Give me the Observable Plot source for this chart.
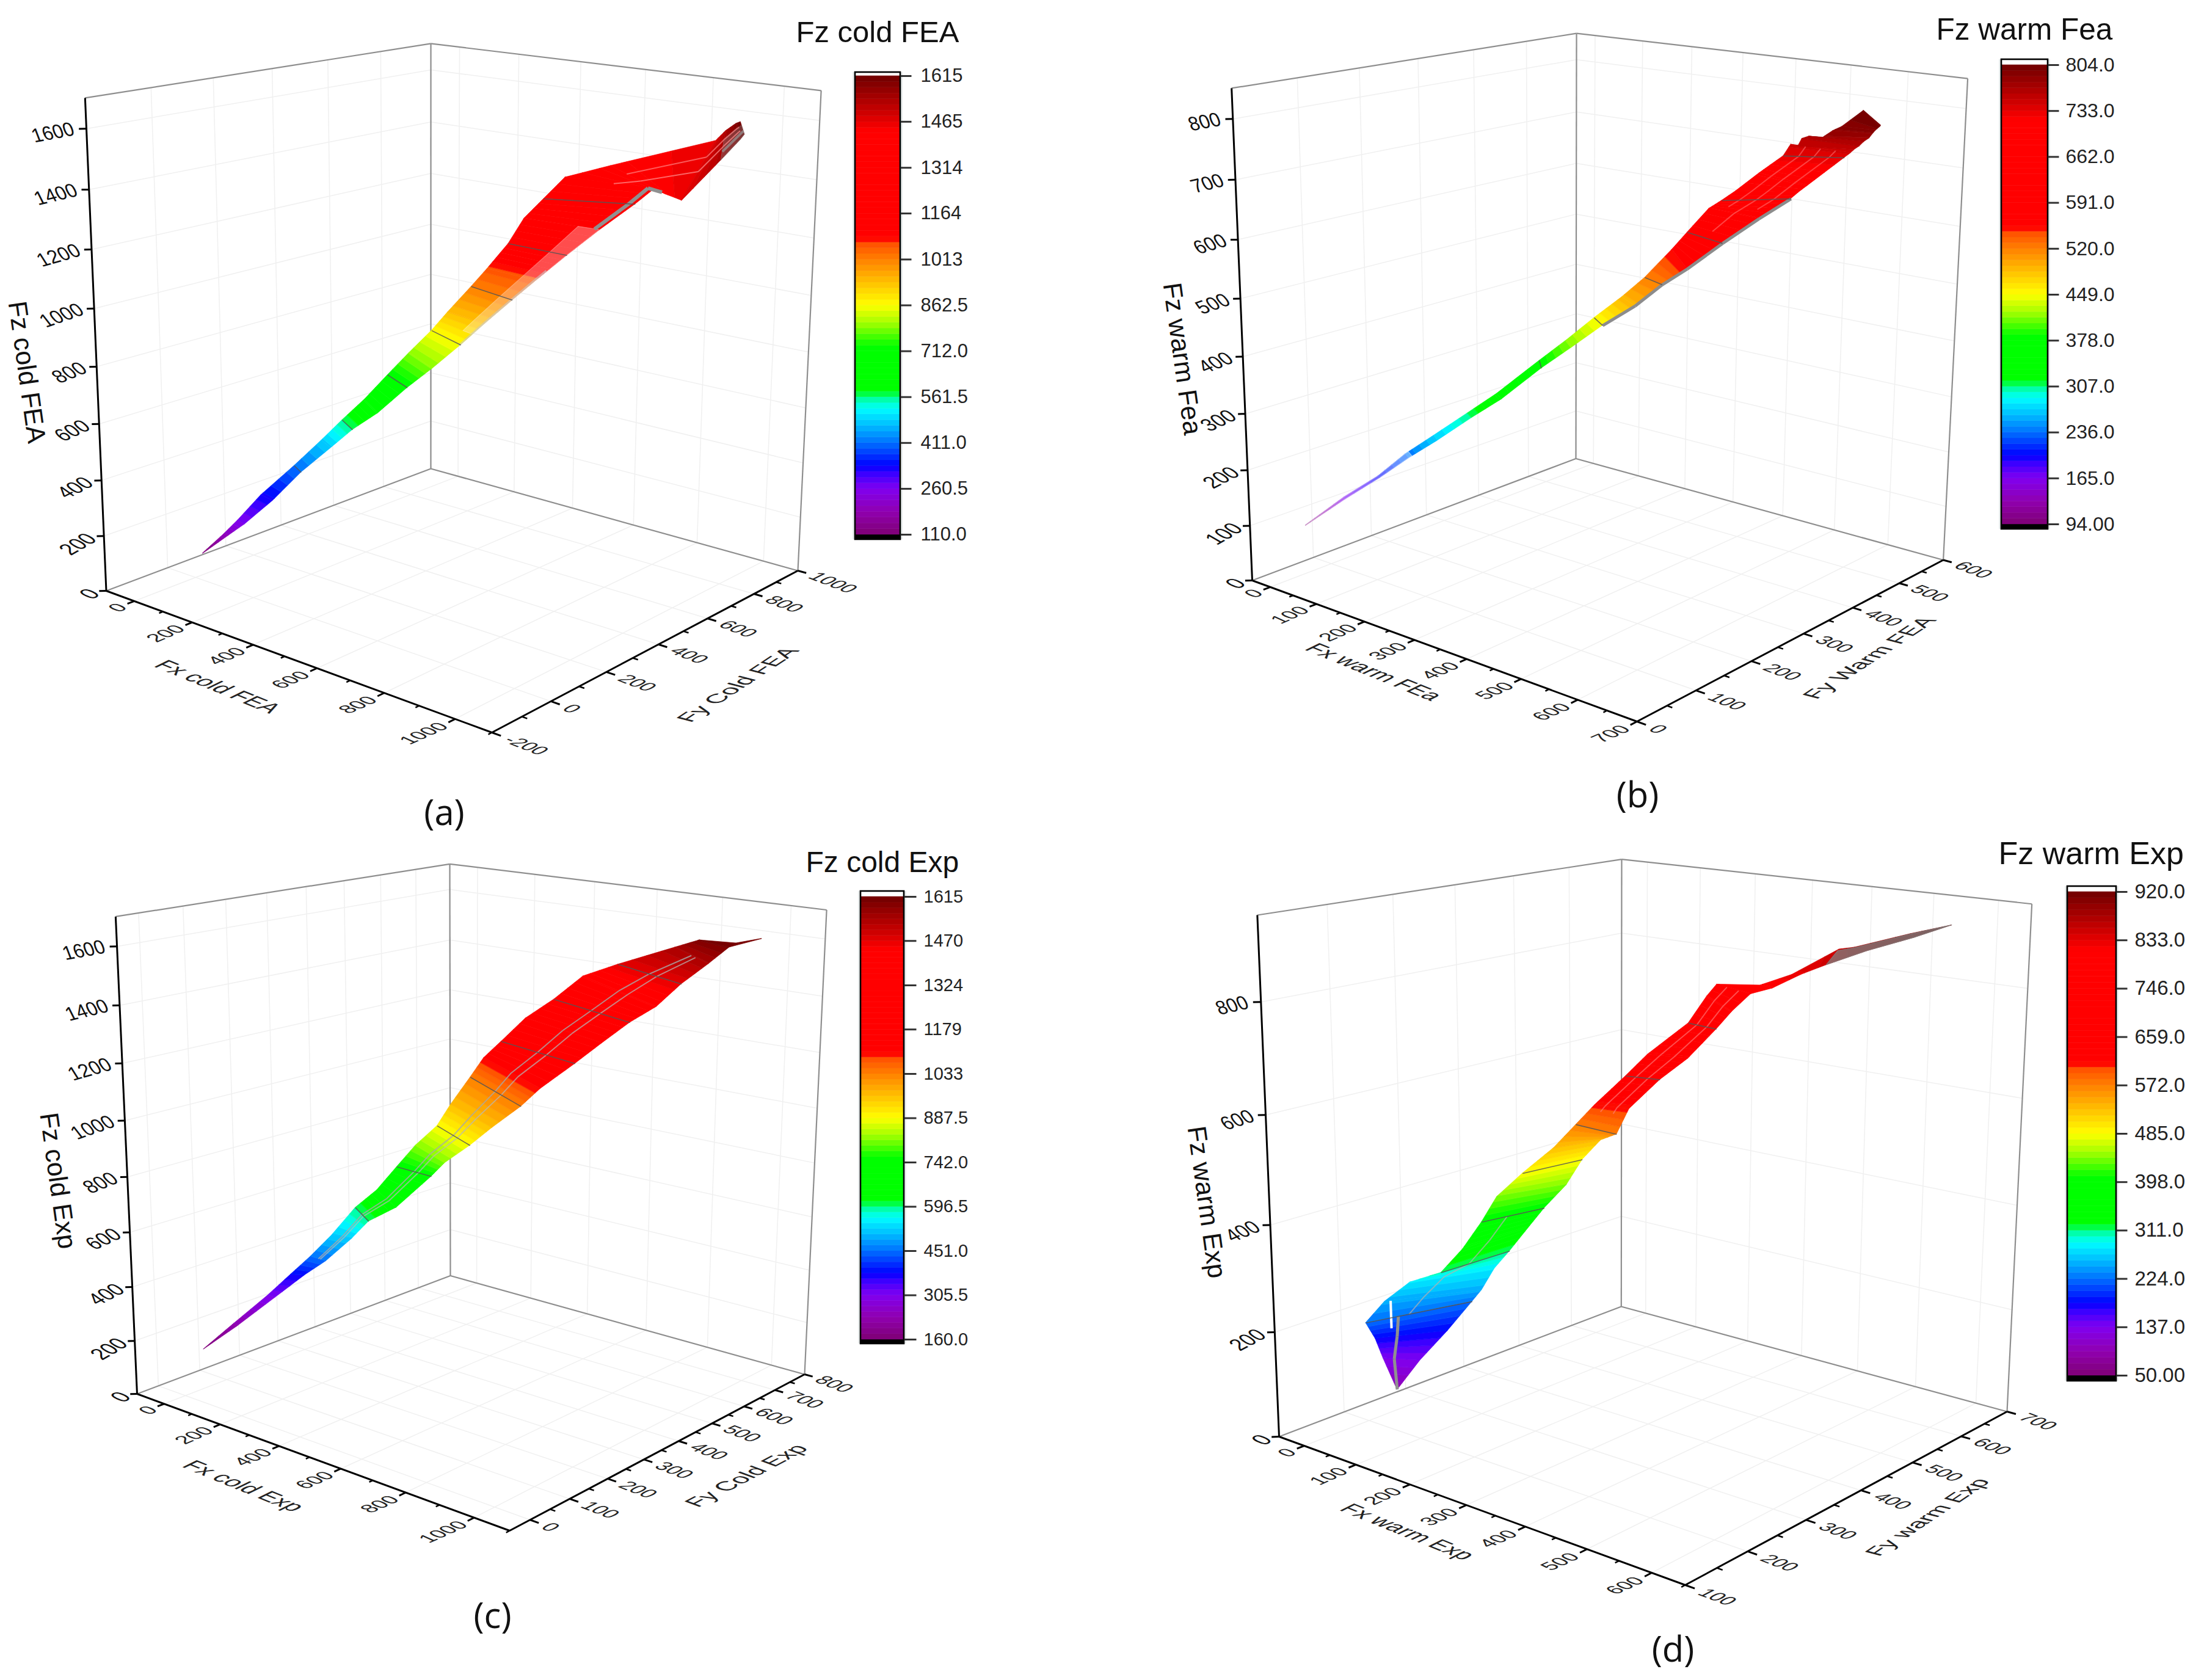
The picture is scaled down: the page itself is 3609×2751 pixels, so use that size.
<!DOCTYPE html>
<html><head><meta charset="utf-8">
<script src="https://cdn.jsdelivr.net/npm/d3@7"></script>
<script src="https://cdn.jsdelivr.net/npm/@observablehq/plot@0.6"></script>
<style>html,body{margin:0;padding:0;background:#fff}#page{position:relative;width:3609px;height:2751px;overflow:hidden}#page>svg{position:absolute;overflow:visible}</style>
</head><body><div id="page"></div>
<script>
// Surface readings: Fz level, then (Fx,Fy) on the upper (U) and lower (L) edge of the surface at that level.
const a_fz =[110,200,260.5,330,411,480,561.5,640,712,790,862.5,940,1013,1060,1164,1240,1314,1370,1420,1465,1530,1590,1615];
const a_fxU=[42,108,149,162,188,205,256,304,322,359,390,439,453,454,521,525,572,572,675,775,859,954,1004];
const a_fyU=[-13,-3,4,71,160,238,258,286,350,387,434,437,507,565,563,618,633,716,760,1059,972,869,810];
const a_fxL=[44,125,181,212,235,263,327,402,429,490,526,574,610,616,701,738,774,815,969,1119,1059,1076,1102];
const a_fyL=[-14,-6,-4,60,135,209,218,226,300,321,381,412,469,550,558,635,725,743,568,410,649,700,675];

const b_fz =[94,165,200,236,270,307,345,378,415,449,490,520,556,591,625,662,680,700,733,745,752,760,768,776,784,792,800,804];
const b_fxU=[11,91,125,150,186,218,258,257,289,310,351,368,370,399,406,477,497,497,534,523,557,549,568,609,612,625,597,610];
const b_fyU=[52,56,86,112,128,161,177,253,273,303,314,340,389,388,422,370,375,420,425,452,427,444,435,415,431,433,511,496];
const b_fxL=[12,99,133,167,206,238,282,286,320,347,398,414,461,481,503,545,571,600,608,625,633,644,651,662,668,677,687,693];
const b_fyL=[52,52,82,104,118,151,164,230,254,283,292,326,324,369,415,430,414,399,461,453,450,447,447,444,443,438,434,428];

const c_fz =[160,230,305.5,380,451,520,596.5,670,742,815,887.5,960,1033,1105,1179,1250,1324,1400,1470,1540,1600,1612,1615];
const c_fxU=[17,42,61,97,142,166,171,225,239,263,304,318,303,328,388,405,468,504,631,758,881,998,1016];
const c_fyU=[36,91,166,201,219,257,315,331,374,406,432,458,525,542,540,594,620,672,655,699,646,633,692];
const c_fxL=[18,60,86,129,197,225,276,363,363,426,488,544,592,644,680,727,780,869,897,947,991,1016,1018];
const c_fyL=[36,89,168,213,218,264,270,275,368,353,369,381,418,424,488,519,548,536,579,606,620,613,690];

const d_fz =[95,137,180,224,250,280,311,350,398,440,485,530,572,610,659,700,746,780,800,810,830,850,880,905,920];
const d_fxU=[78,39,40,53,50,66,119,133,149,156,186,214,236,260,284,311,329,313,320,392,426,410,492,550,590];
const d_fyU=[183,194,182,158,190,217,222,245,262,281,296,322,338,346,375,385,437,487,497,497,516,625,554,590,619];
const d_fxL=[79,83,92,99,115,111,123,133,168,188,200,235,310,308,332,366,381,403,396,417,435,467,520,570,590];
const d_fyL=[183,216,253,288,290,315,330,353,348,367,383,381,334,357,385,398,431,434,475,491,523,532,543,571,618];

// Colour-bar tick labels
const a_ticks=["110.0","260.5","411.0","561.5","712.0","862.5","1013","1164","1314","1465","1615"];
const b_ticks=["94.00","165.0","236.0","307.0","378.0","449.0","520.0","591.0","662.0","733.0","804.0"];
const c_ticks=["160.0","305.5","451.0","596.5","742.0","887.5","1033","1179","1324","1470","1615"];
const d_ticks=["50.00","137.0","224.0","311.0","398.0","485.0","572.0","659.0","746.0","833.0","920.0"];

// Rainbow colour map of the bars (fractions of the bar, colours)
const colorStops=[0,.05,.10,.13,.15,.20,.24,.275,.30,.312,.41,.46,.50,.55,.60,.635,.645,.88,.93,1];
const colorRange=["#7f0075","#9000b0","#8000f0","#4000ff","#0000ff","#0070ff","#00c0ff","#00ffff","#00ff90","#00ff00","#00ff00","#a0ff00","#ffff00","#ffc000","#ff8000","#ff5000","#ff0000","#ff0000","#c00000","#700000"];
const N=80;
const zipSec=(z,xU,yU,xL,yL)=>z.map((v,i)=>({z:v,xU:xU[i],yU:yU[i],xL:xL[i],yL:yL[i]}));

const panels=[
{ox:0,oy:0,w:1800,h:1375,A:[173.5,967],B:[805,1199],C:[1306,934],D:[705,767],At:[139,161],Dt:[705,69],Ct:[1344,149],
 xd:[-100,1100],yd:[-200,1000],zd:[0,1700],xt:200,xf:0,yt:200,yf:-200,zt:200,xm:100,ym:100,yLab:1.035,yTr:1.2,
 sec:zipSec(a_fz,a_fxU,a_fyU,a_fxL,a_fyL),lab:a_ticks,
 contours:[411,561.5,712,862.5,1013,1164,1314],
 strands:[[.97,860,1100,"#c8c8c8",3,.6],[.93,1240,1420,"#909090",6,1],[.55,1370,1600,"#ff9090",2,.7],[.3,1420,1600,"#ff8080",2,.7],[.72,1530,1615,"#999",4,.7]],
 sheens:[[.72,1,900,1240,"#ffffff",.3],[.3,1,1530,1615,"#807070",.45]],
 title:"Fz cold FEA",tfs:49,tx:1303,ty:68,
 leg:{x0:1400,x1:1474,y0:118,y1:883,top:124,bot:875,tickEnd:1492,lx:1507,fs:31},
 zT:"Fz cold FEA",zTp:[43,609],xT:"Fx cold FEA",xTp:[356,1124],yT:"Fy Cold FEA",yTp:[1208,1121],tag:"(a)",tagp:[727,1332]},
{ox:1800,oy:0,w:1809,h:1375,A:[2050,950],B:[2680,1181],C:[3181.6,916.5],D:[2580,750.5],At:[2017,143.5],Dt:[2580,52],Ct:[3222,131],
 xd:[-40,700],yd:[0,600],zd:[0,850],xt:100,xf:0,yt:100,yf:0,zt:100,xm:50,ym:50,yLab:1.035,yTr:1.2,
 sec:zipSec(b_fz,b_fxU,b_fyU,b_fxL,b_fyL),lab:b_ticks,
 contours:[378,449,520,591,662,733],
 strands:[[1,449,662,"#8c8c8c",5,1],[.5,600,745,"#ff7070",2,.6],[.25,640,745,"#ff8080",2,.5],[.75,640,745,"#ff8080",2,.5]],
 sheens:[[0,1,94,240,"#ffffff",.4]],
 title:"Fz warm Fea",tfs:49.5,tx:3170,ty:64,
 leg:{x0:3277,x1:3353,y0:97,y1:866,top:106,bot:858,tickEnd:3371,lx:3382,fs:32},
 zT:"Fz warm Fea",zTp:[1935,587],xT:"Fx warm FEa",xTp:[2249,1100],yT:"Fy Warm FEA",yTp:[3061,1077],tag:"(b)",tagp:[2681,1303]},
{ox:0,oy:1375,w:1800,h:1376,A:[224,2282],B:[834,2506],C:[1317,2250],D:[737,2088.5],At:[189,1502],Dt:[736,1413],Ct:[1353,1489.5],
 xd:[-100,1100],yd:[-50,800],zd:[0,1700],xt:200,xf:0,yt:100,yf:0,zt:200,xm:100,ym:50,yLab:1.035,yTr:1.0,
 sec:zipSec(c_fz,c_fxU,c_fyU,c_fxL,c_fyL),lab:c_ticks,
 contours:[596.5,742,887.5,1033,1179,1324,1470],
 strands:[[.5,451,1540,"#a8a8a8",2,.8],[.62,451,1540,"#b8b8b8",2,.7]],
 sheens:[],
 title:"Fz cold Exp",tfs:48,tx:1319,ty:1427,
 leg:{x0:1409,x1:1480,y0:1459,y1:2200,top:1468,bot:2193,tickEnd:1500,lx:1512,fs:29},
 zT:"Fz cold Exp",zTp:[94,1933],xT:"Fx cold Exp",xTp:[398,2433],yT:"Fy Cold Exp",yTp:[1222,2416],tag:"(c)",tagp:[806,2647]},
{ox:1800,oy:1375,w:1809,h:1376,A:[2094,2352],B:[2759,2595],C:[3286,2311],D:[2654.3,2139],At:[2059.5,1498],Dt:[2653.7,1402],Ct:[3327,1485],
 xd:[-50,650],yd:[100,700],zd:[0,950],xt:100,xf:0,yt:100,yf:100,zt:200,xm:50,ym:50,yLab:1.035,yTr:1.2,
 sec:zipSec(d_fz,d_fxU,d_fyU,d_fxL,d_fyL),lab:d_ticks,
 contours:[224,311,398,485,572,659,746],
 strands:[[.3,95,224,"#909090",5,1],[.4,224,398,"#b0b0b0",2,.7],[.23,200,250,"#ffffff",4,1,.06],[.3,600,800,"#ff8080",2,.6],[.65,600,800,"#ff8080",2,.6]],
 sheens:[[.1,1,850,920,"#808080",.75]],
 title:"Fz warm Exp",tfs:52,tx:3272,ty:1414,
 leg:{x0:3385,x1:3465,y0:1451,y1:2261,top:1460,bot:2252,tickEnd:3483,lx:3495,fs:33},
 zT:"Fz warm Exp",zTp:[1975,1968],xT:"Fx warm Exp",xTp:[2304,2508],yT:"Fy warm Exp",yTp:[3156,2484],tag:"(d)",tagp:[2739,2702]}
];
panels.forEach(p=>{p.zmin=+p.lab[0];p.zmax=+p.lab[p.lab.length-1];});
function camera(p){
 const [Ax,Ay]=p.A,[Bx,By]=p.B,[Cx,Cy]=p.C,[Dx,Dy]=p.D;
 const dx1=Bx-Cx,dx2=Dx-Cx,dx3=Ax-Bx+Cx-Dx,dy1=By-Cy,dy2=Dy-Cy,dy3=Ay-By+Cy-Dy,den=dx1*dy2-dx2*dy1;
 const g=(dx3*dy2-dx2*dy3)/den,h=(dx1*dy3-dx3*dy1)/den;
 const a=Bx-Ax+g*Bx,b=Dx-Ax+h*Dx,c=Ax,d=By-Ay+g*By,e=Dy-Ay+h*Dy,f=Ay;
 const tops=[[0,0,p.At],[0,1,p.Dt],[1,1,p.Ct]];
 const M=[[0,0,0],[0,0,0],[0,0,0]],R=[0,0,0];
 for(const [u,v,T] of tops){const n=g*u+h*v+1,xn=a*u+b*v+c,yn=d*u+e*v+f;
  for(const [row,rhs] of [[[1,0,-T[0]],T[0]*n-xn],[[0,1,-T[1]],T[1]*n-yn]]){
   for(let i=0;i<3;i++){R[i]+=row[i]*rhs;for(let j=0;j<3;j++)M[i][j]+=row[i]*row[j];}}}
 for(let i=0;i<3;i++){const pv=M[i][i];for(let j=i;j<3;j++)M[i][j]/=pv;R[i]/=pv;
  for(let k=0;k<3;k++)if(k!==i){const m=M[k][i];for(let j=i;j<3;j++)M[k][j]-=m*M[i][j];R[k]-=m*R[i];}}
 const [pp,qq,rr]=R;
 const uvw=(u,v,w)=>{const n=g*u+h*v+1+rr*w;return[(a*u+b*v+c+pp*w)/n,(d*u+e*v+f+qq*w)/n];};
 const U=x=>(x-p.xd[0])/(p.xd[1]-p.xd[0]),V=y=>(y-p.yd[0])/(p.yd[1]-p.yd[0]),W=z=>(z-p.zd[0])/(p.zd[1]-p.zd[0]);
 return {uvw,U,V,W};
}
const deg=(P,Q)=>Math.atan2(Q[1]-P[1],Q[0]-P[0])*180/Math.PI;
function range(a,b,s){const r=[];for(let v=a;v<=b+1e-9;v+=s)r.push(v);return r;}
const font='"Liberation Sans", Arial, sans-serif';
function draw(p){
 const cam=camera(p),{uvw,U,V,W}=cam,dataSec=p.sec;
 const X=(x,y,z)=>uvw(U(x),V(y),W(z));
 const sp=(sec,s)=>[sec.xU+(sec.xL-sec.xU)*s,sec.yU+(sec.yL-sec.yU)*s];
 const at=z=>{for(let i=0;i<dataSec.length-1;i++){const a=dataSec[i],b=dataSec[i+1];if(z>=a.z&&z<=b.z){const t=(z-a.z)/(b.z-a.z);return{z,xU:a.xU+(b.xU-a.xU)*t,yU:a.yU+(b.yU-a.yU)*t,xL:a.xL+(b.xL-a.xL)*t,yL:a.yL+(b.yL-a.yL)*t};}}return dataSec[dataSec.length-1];};
 const dz=(p.zmax-p.zmin)/N;
 const bandRows=[];let id=0;
 for(let i=0;i<dataSec.length-1;i++){const z0=dataSec[i].z,z1=dataSec[i+1].z;
  const cuts=[z0];for(let k=Math.ceil((z0-p.zmin)/dz+1e-9);p.zmin+k*dz<z1;k++)cuts.push(p.zmin+k*dz);cuts.push(z1);
  for(let j=0;j<cuts.length-1;j++){const mid=(cuts[j]+cuts[j+1])/2,k=Math.min(N-1,Math.floor((mid-p.zmin)/dz)),lv=p.zmin+(k+.5)*dz;id++;
   for(const z of [cuts[j],cuts[j+1]]){const s=at(Math.min(z,p.zmax));bandRows.push({id,lv,u:X(s.xU,s.yU,z),l:X(s.xL,s.yL,z)});}}}
 const seg=(a,b)=>({a,b});
 const [x0,x1]=p.xd,[y0,y1]=p.yd,[,z1]=p.zd;
 const frame=[[[0,0,0],[0,1,0]],[[0,1,0],[1,1,0]],[[0,1,0],[0,1,1]],[[0,0,1],[0,1,1]],[[0,1,1],[1,1,1]],[[1,1,0],[1,1,1]]].map(([a,b])=>seg(uvw(...a),uvw(...b)));
 const axesK=[[[0,0,0],[1,0,0]],[[1,0,0],[1,1,0]],[[0,0,0],[0,0,1]]].map(([a,b])=>seg(uvw(...a),uvw(...b)));
 const xmaj=range(p.xf,x1,p.xt),ymaj=range(p.yf,y1,p.yt),zmaj=range(0,z1,p.zt);
 const grid=[];
 for(const z of zmaj){if(z===0)continue;grid.push(seg(X(x0,y0,z),X(x0,y1,z)),seg(X(x0,y1,z),X(x1,y1,z)));}
 for(const x of xmaj){grid.push(seg(X(x,y0,0),X(x,y1,0)),seg(X(x,y1,0),X(x,y1,z1)));}
 for(const y of ymaj){grid.push(seg(X(x0,y,0),X(x1,y,0)),seg(X(x0,y,0),X(x0,y,z1)));}
 const tick=[],minor=[];
 for(const x of range(p.xf,x1,p.xm)){const maj=xmaj.includes(x);(maj?tick:minor).push(seg(X(x,y0,0),uvw(U(x),maj?-.018:-.01,0)));}
 for(const y of range(p.yf,y1,p.ym)){const maj=ymaj.includes(y);(maj?tick:minor).push(seg(X(x1,y,0),uvw(maj?1.02:1.012,V(y),0)));}
 for(const z of zmaj){tick.push(seg(X(x0,y0,z),uvw(-.01,-.01,W(z))));}
 const dirX=deg(p.A,p.B),dirY=deg(p.B,p.C);
 const xl=xmaj.map(v=>({t:String(v),p:uvw(U(v),-.03,0)}));
 const yl=ymaj.map(v=>({t:String(v),p:uvw(p.yLab,V(v),0)}));
 const zl=zmaj.map(v=>{const n=W(v);return{t:String(v),p:uvw(-.017,-.017,n),r:deg(uvw(0,0,n),uvw(0,1,n))-12*(1-n)};});
 const cont=p.contours.map(z=>{const s=at(z);return seg(X(s.xU,s.yU,z),X(s.xL,s.yL,z));});
 const linkO={x1:d=>d.a[0],y1:d=>d.a[1],x2:d=>d.b[0],y2:d=>d.b[1]};
 const strandMarks=p.strands.map(([s,za,zb,col,wd,op,s2])=>{
  const zs=s2===undefined?[za,...dataSec.map(d=>d.z).filter(z=>z>za&&z<zb),zb]:[za,zb];const segs=[];
  const sAt=z=>s2===undefined?s:s+(s2-s)*(z-za)/(zb-za);
  for(let i=0;i<zs.length-1;i++){const A=at(zs[i]),B=at(zs[i+1]);const [ax,ay]=sp(A,sAt(zs[i])),[bx,by]=sp(B,sAt(zs[i+1]));segs.push(seg(X(ax,ay,zs[i]),X(bx,by,zs[i+1])));}
  return Plot.link(segs,{...linkO,stroke:col,strokeWidth:wd,strokeOpacity:op});});
 const sheenMarks=p.sheens.map(([s0,s1,za,zb,col,op])=>{
  const zs=[za,...dataSec.map(d=>d.z).filter(z=>z>za&&z<zb),zb];
  const rows=zs.map(z=>{const S=at(z);const [ax,ay]=sp(S,s0),[bx,by]=sp(S,s1);return{u:X(ax,ay,z),l:X(bx,by,z)};});
  return Plot.area(rows,{x1:d=>d.u[0],y1:d=>d.u[1],x2:d=>d.l[0],y2:d=>d.l[1],fill:col,fillOpacity:op,stroke:col,strokeOpacity:op,strokeWidth:1.2});});
 const L=p.leg,ly=v=>L.bot+(v-p.zmin)/(p.zmax-p.zmin)*(L.top-L.bot);
 const levels=d3.range(N).map(k=>({v0:p.zmin+k*dz,v1:p.zmin+(k+1)*dz,m:p.zmin+(k+.5)*dz}));
 const link=(data,stroke,w,extra={})=>Plot.link(data,{...linkO,stroke,strokeWidth:w,...extra});
 const T={fontFamily:font};
 const pl=Plot.plot({width:p.w,height:p.h,marginLeft:0,marginRight:0,marginTop:0,marginBottom:0,
  x:{axis:null,domain:[p.ox,p.ox+p.w],range:[0,p.w]},y:{axis:null,domain:[p.oy,p.oy+p.h],range:[0,p.h]},
  color:{type:"linear",domain:colorStops.map(t=>p.zmin+t*(p.zmax-p.zmin)),range:colorRange},
  style:{background:"transparent",fontFamily:font},
  marks:[
   link(grid,"#f0f0f0",1.5),
   link(frame,"#8e8e8e",2.2),
   Plot.area(bandRows,{x1:d=>d.u[0],y1:d=>d.u[1],x2:d=>d.l[0],y2:d=>d.l[1],z:"id",fill:"lv",stroke:"lv",strokeWidth:.7}),
   ...sheenMarks,...strandMarks,
   link(cont,"#555",1.6,{strokeOpacity:.85}),
   link(axesK,"#000",3),link(tick,"#000",3),link(minor,"#000",2.5),
   Plot.text(xl,{...T,className:"xt",x:d=>d.p[0],y:d=>d.p[1],text:"t",textAnchor:"end",rotate:dirY*.85,fontSize:28,fill:"#222"}),
   Plot.text(yl,{...T,className:"yt",x:d=>d.p[0],y:d=>d.p[1],text:"t",textAnchor:"start",rotate:dirX*1.05,fontSize:28,fill:"#222"}),
   Plot.text(zl,{...T,className:"zt",x:d=>d.p[0],y:d=>d.p[1],text:"t",textAnchor:"end",rotate:"r",fontSize:31,fill:"#111"}),
   Plot.text([p.zT],{...T,x:()=>p.zTp[0],y:()=>p.zTp[1],text:d=>d,rotate:82,fontSize:43,fill:"#111"}),
   Plot.text([p.xT],{...T,className:"yt",x:()=>p.xTp[0],y:()=>p.xTp[1],text:d=>d,rotate:dirX*1.1,fontSize:33,fill:"#222"}),
   Plot.text([p.yT],{...T,className:"xt",x:()=>p.yTp[0],y:()=>p.yTp[1],text:d=>d,rotate:dirY*p.yTr,fontSize:33,fill:"#222"}),
   Plot.text([p.tag],{x:()=>p.tagp[0],y:()=>p.tagp[1],text:d=>d,fontSize:58,fill:"#111",fontFamily:"Open Sans"}),
   Plot.text([p.title],{...T,x:()=>p.tx,y:()=>p.ty,text:d=>d,textAnchor:"start",lineAnchor:"bottom",fontSize:p.tfs,fill:"#111"}),
   Plot.rect([1],{x1:()=>L.x0-4,x2:()=>L.x1+4,y1:()=>L.y0,y2:()=>L.y1,fill:"#e9eded"}),
   Plot.rect([1],{x1:()=>L.x0,x2:()=>L.x1,y1:()=>L.y0,y2:()=>L.top,fill:"#fff"}),
   Plot.rect([1],{x1:()=>L.x0,x2:()=>L.x1,y1:()=>L.bot,y2:()=>L.y1,fill:"#000"}),
   Plot.rect(levels,{x1:()=>L.x0,x2:()=>L.x1,y1:d=>ly(d.v0),y2:d=>ly(d.v1),fill:"m",stroke:"m",strokeWidth:.5}),
   Plot.rect([1],{x1:()=>L.x0,x2:()=>L.x1,y1:()=>L.y0,y2:()=>L.y1,stroke:"#000",strokeWidth:2.6,fill:"none"}),
   Plot.link(p.lab,{x1:()=>L.x1,x2:()=>L.tickEnd,y1:d=>ly(+d),y2:d=>ly(+d),stroke:"#333",strokeWidth:3}),
   Plot.text(p.lab,{...T,x:()=>L.lx,y:d=>ly(+d),text:d=>d,textAnchor:"start",fontSize:L.fs,fill:"#222"})
  ]});
 pl.style.left=p.ox+"px";pl.style.top=p.oy+"px";
 const shear=(cls,phi,sx,sy)=>pl.querySelectorAll("."+cls+" text").forEach(t=>{const tr=t.getAttribute("transform")||"";const m=/rotate\(([-\d.e]+)\)/.exec(tr);const th=m?+m[1]:0;const ph=phi===null?-th:phi;t.setAttribute("transform",tr+` skewX(${ph}) scale(${sx},${sy})`);});
 shear("xt",90-(dirX-dirY),1.15,.85);
 shear("yt",90-((dirY+180)-dirX),1.15,.85);
 shear("zt",null,1,1.05);
 document.getElementById("page").appendChild(pl);
}
panels.forEach(draw);
</script></body></html>
